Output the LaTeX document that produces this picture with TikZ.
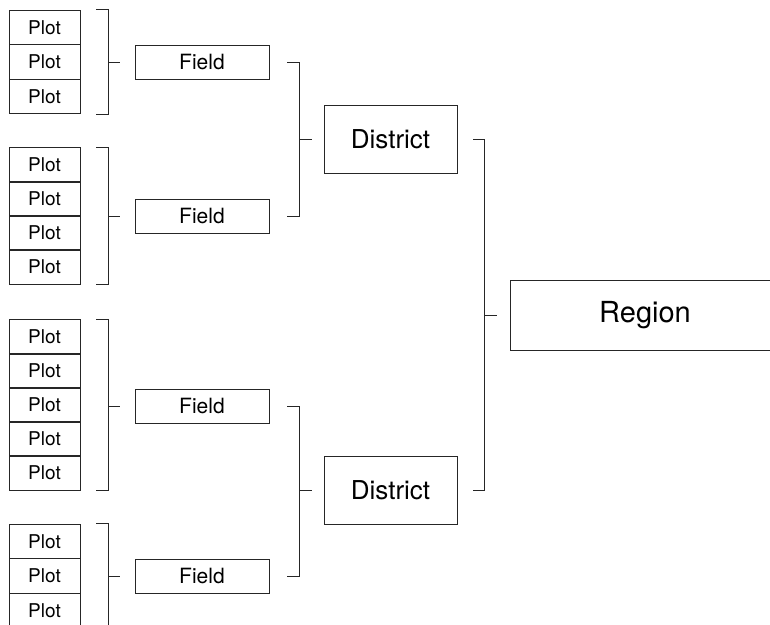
\documentclass[tikz,border=0pt]{standalone}
\usepackage{fontspec}
\setmainfont{TeX Gyre Heros}
\usetikzlibrary{calc}
\begin{document}
\begin{tikzpicture}[x=1pt,y=-1pt,
  line width=0.9pt, draw=black!85,
  plotbox/.style={draw, minimum width=71pt, minimum height=34.5pt, inner sep=0pt, font=\fontsize{19}{19}\selectfont},
  fieldbox/.style={draw, minimum width=134pt, minimum height=34pt, inner sep=0pt, font=\fontsize{21}{21}\selectfont},
  distbox/.style={draw, minimum width=133pt, minimum height=68pt, inner sep=0pt, font=\fontsize{26}{26}\selectfont},
  regbox/.style={draw, minimum width=270pt, minimum height=70pt, inner sep=0pt, font=\fontsize{29}{29}\selectfont},
  conn/.style={line width=0.9pt}]
\useasboundingbox (0,0) rectangle (770,624);
% plots group 1
\node[plotbox] (p1a) at (44.5,27.25) {Plot};
\node[plotbox] (p1b) at (44.5,61.75) {Plot};
\node[plotbox] (p1c) at (44.5,96.25) {Plot};
% group 2
\node[plotbox] (p2a) at (44.5,165) {Plot};
\node[plotbox] (p2b) at (44.5,199) {Plot};
\node[plotbox] (p2c) at (44.5,233) {Plot};
\node[plotbox] (p2d) at (44.5,267) {Plot};
% group 3
\node[plotbox] (p3a) at (44.5,337) {Plot};
\node[plotbox] (p3b) at (44.5,371) {Plot};
\node[plotbox] (p3c) at (44.5,405) {Plot};
\node[plotbox] (p3d) at (44.5,439) {Plot};
\node[plotbox] (p3e) at (44.5,473) {Plot};
% group 4
\node[plotbox] (p4a) at (44.5,541.25) {Plot};
\node[plotbox] (p4b) at (44.5,575.75) {Plot};
\node[plotbox] (p4c) at (44.5,610.25) {Plot};
% fields
\node[fieldbox] (f1) at (202,62) {Field};
\node[fieldbox] (f2) at (202,216) {Field};
\node[fieldbox] (f3) at (202,406) {Field};
\node[fieldbox] (f4) at (202,576) {Field};
% districts
\node[distbox] (d1) at (390.5,139) {District};
\node[distbox] (d2) at (390.5,490) {District};
% region
\node[regbox] (r) at (645,315) {Region};
% plot brackets
\foreach \t/\b/\f in {p1a/p1c/f1, p2a/p2d/f2, p3a/p3e/f3, p4a/p4c/f4}{
  \coordinate (bt) at ([xshift=16pt]\t.north east);
  \coordinate (bv) at ([xshift=28pt]\t.north east);
  \coordinate (bb) at ([xshift=16pt]\b.south east);
  \draw[conn] (bt) -- (bv) -- (bv |- bb) -- (bb);
  \draw[conn] (bv |- \f.west) -- ([xshift=-15pt]\f.west);
}
% field brackets
\foreach \t/\b/\d in {f1/f2/d1, f3/f4/d2}{
  \coordinate (ft) at ([xshift=18pt]\t.east);
  \coordinate (fv) at ([xshift=30pt]\t.east);
  \coordinate (fb) at ([xshift=18pt]\b.east);
  \draw[conn] (ft) -- (fv) -- (fv |- fb) -- (fb);
  \draw[conn] (fv |- \d.west) -- ([xshift=-12pt]\d.west);
}
% district bracket
\coordinate (dt) at ([xshift=16pt]d1.east);
\coordinate (dv) at ([xshift=27pt]d1.east);
\coordinate (db) at ([xshift=16pt]d2.east);
\draw[conn] (dt) -- (dv) -- (dv |- db) -- (db);
\draw[conn] (dv |- r.west) -- ([xshift=-13pt]r.west);
\end{tikzpicture}
\end{document}
